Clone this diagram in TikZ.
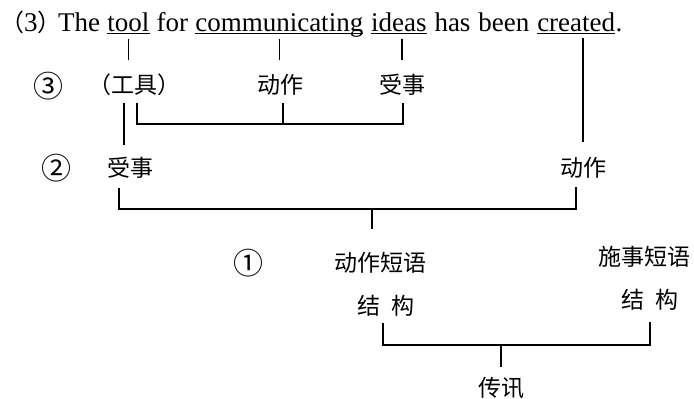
\documentclass[tikz,border=0pt]{standalone}
\usepackage{fontspec}
\setmainfont{Liberation Serif}
\newfontfamily\cjk{Noto Sans CJK SC}
\usetikzlibrary{calc}
\begin{document}
\begin{tikzpicture}[x=1pt,y=-1pt,
  en/.style={font=\fontsize{27}{30}\selectfont, inner sep=0pt, anchor=base west},
  zh/.style={font=\cjk\fontsize{23}{26}\selectfont, inner sep=0pt},
  num/.style={font=\cjk\fontsize{30}{32}\selectfont, inner sep=0pt},
  ul/.style={line width=1.2pt},
  ln/.style={line width=1.3pt}]
\useasboundingbox (0,0) rectangle (694,399);
% title sentence
\node[en] (w0) at (0,31) {{\cjk\fontsize{24}{30}\selectfont （}3{\cjk\fontsize{24}{30}\selectfont ）}};
\node[en] (w1) at (58,31) {The};
\node[en] (w2) at ([xshift=6.8pt]w1.base east) {tool};
\node[en] (w3) at ([xshift=6.8pt]w2.base east) {for};
\node[en] (w4) at ([xshift=6.8pt]w3.base east) {communicating};
\node[en] (w5) at ([xshift=7.5pt]w4.base east) {ideas};
\node[en] (w6) at ([xshift=7.5pt]w5.base east) {has};
\node[en] (w7) at ([xshift=7.5pt]w6.base east) {been};
\node[en] (w8) at ([xshift=7.5pt]w7.base east) {created};
\node[en] (w9) at (w8.base east) {.};
\foreach \w in {w2,w4,w5,w8}
  \draw[ul] ([yshift=-2.8pt]\w.base west) -- ([yshift=-2.8pt]\w.base east);
% labels
\node[num] (c3) at (48,86) {③};
\node[zh] (gj) at (134,85) {（工具）};
\node[zh] (dz3) at (280,85) {动作};
\node[zh] (ss3) at (402,85) {受事};
\node[num] (c2) at (56,168) {②};
\node[zh] (ss2) at (130,168) {受事};
\node[zh] (dz2) at (583,168) {动作};
\node[num] (c1) at (248,263) {①};
\node[zh] (dzdy) at (380,263) {动作短语};
\node[zh] (jg1) at (386,306) {结\hspace{12pt}构};
\node[zh] (ssdy) at (644,257) {施事短语};
\node[zh] (jg2) at (650,300) {结\hspace{12pt}构};
\node[zh] (cx) at (501,388) {传讯};
% ticks from the sentence
\draw[ln] ($(w2.base)+(0,8)$) -- ($(w2.base)+(0,29)$);
\draw[ln] ($(w4.base)+(0,8)$) -- ($(w4.base)+(0,29)$);
\draw[ln] ($(w5.base -| ss3)+(0,8)$) -- ($(w5.base -| ss3)+(0,29)$);
\draw[ln] ($(w8.base -| dz2)+(0,7)$) -- ($(dz2)+(0,-26)$);
% level 3
\draw[ln] ($(gj)+(-10,18)$) -- ($(ss2)+(-6,-23)$);
\coordinate (j3) at ($(dz3)+(3,39)$);
\draw[ln] ($(gj)+(3,18)$) |- (j3) -| ($(ss3)+(1,18)$);
\draw[ln] ($(dz3)+(3,18)$) -- (j3);
% level 2
\draw[ln] ($(ss2)+(-11,20)$) |- ($(dz2)+(-7,41)$) -- ($(dz2)+(-7,19)$);
\draw[ln] ($(dzdy)+(-8,-54)$) -- ($(dzdy)+(-8,-34)$);
% level 1
\draw[ln] ($(jg1)+(-3,17)$) |- ($(jg2)+(0,45)$) -- ($(jg2)+(0,22)$);
\draw[ln] ($(cx)+(0,-43)$) -- ($(cx)+(0,-21)$);
\end{tikzpicture}
\end{document}
